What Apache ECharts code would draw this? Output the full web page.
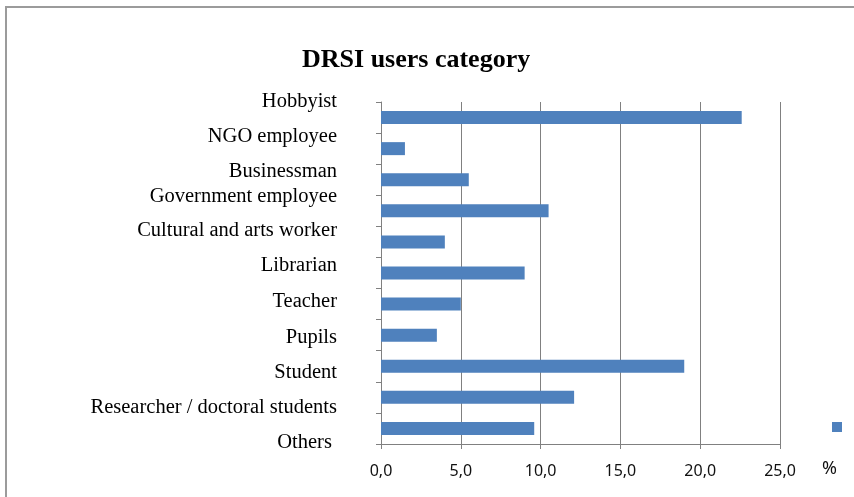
<!DOCTYPE html>
<html>
<head>
<meta charset="utf-8">
<script src="https://cdn.jsdelivr.net/npm/echarts@6/dist/echarts.min.js"></script>
<style>
html,body{margin:0;padding:0;background:#fff;}
#chart{width:854px;height:497px;}
</style>
</head>
<body>
<div id="chart"></div>
<script>
const categories = ["Hobbyist", "NGO employee", "Businessman", "Government employee", "Cultural and arts worker", "Librarian", "Teacher", "Pupils", "Student", "Researcher / doctoral students", "Others "];
const values = [22.6, 1.5, 5.5, 10.5, 4.0, 9.0, 5.0, 3.5, 19.0, 12.1, 9.6];
const seriesName = "%";
const xTicks = [0, 5, 10, 15, 20, 25];

// vertical offsets of category labels relative to their bands (layout only)
const labelShift = [-16, -12, -8, -14.5, -11, -7, -2, 2, 6, 10, 14];

const rich = {};
labelShift.forEach((d, i) => {
  rich['r' + i] = {
    fontFamily: 'Liberation Serif',
    fontSize: 20.5,
    color: '#000',
    padding: d < 0 ? [0, 0, -2 * d, 0] : [2 * d, 0, 0, 0]
  };
});

const chart = echarts.init(document.getElementById('chart'));
chart.setOption({
  animation: false,
  backgroundColor: '#fff',
  title: {
    text: 'DRSI users category',
    left: 297,
    top: 42,
    textStyle: { fontFamily: 'Liberation Serif', fontWeight: 'bold', fontSize: 26, color: '#000' }
  },
  grid: { left: 381, right: 74, top: 102, bottom: 53, containLabel: false },
  xAxis: {
    type: 'value',
    min: xTicks[0],
    max: xTicks[xTicks.length - 1],
    interval: 5,
    axisLine: { show: true, lineStyle: { color: '#808080', width: 1 } },
    axisTick: { show: true, length: 5, lineStyle: { color: '#808080' } },
    splitLine: { show: true, lineStyle: { color: '#808080', width: 1 } },
    axisLabel: {
      margin: 19,
      color: '#111',
      fontFamily: 'Noto Sans',
      fontSize: 16,
      formatter: v => v.toFixed(1).replace('.', ',')
    }
  },
  yAxis: {
    type: 'category',
    inverse: true,
    data: categories,
    axisLine: { show: true, lineStyle: { color: '#808080', width: 1 } },
    axisTick: { show: true, length: 5, lineStyle: { color: '#808080' } },
    splitLine: { show: false },
    axisLabel: {
      margin: 44,
      interval: 0,
      formatter: (v, i) => '{r' + i + '|' + v + '}',
      rich: rich
    }
  },
  legend: {
    show: true,
    left: 827,
    top: 417,
    itemWidth: 10,
    itemHeight: 10,
    icon: 'rect',
    itemStyle: { borderWidth: 0 },
    formatter: () => '',
    data: [seriesName]
  },
  graphic: [
    {
      type: 'rect',
      shape: { x: 6, y: 7, width: 1000, height: 1000 },
      style: { fill: 'none', stroke: '#9b9b9b', lineWidth: 2 },
      silent: true
    },
    {
      type: 'text',
      left: 822,
      top: 460,
      style: { text: seriesName, fontFamily: 'Noto Sans', fontSize: 18, fill: '#111' }
    }
  ],
  series: [{
    name: seriesName,
    type: 'bar',
    data: values,
    barWidth: 13,
    itemStyle: { color: '#4F81BD' }
  }]
});
</script>
</body>
</html>
